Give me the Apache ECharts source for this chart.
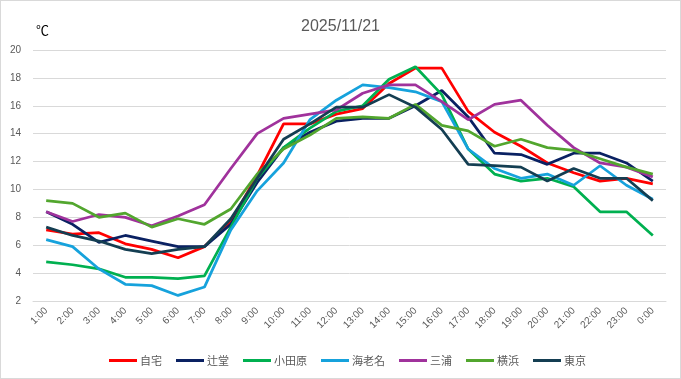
<!DOCTYPE html>
<html>
<head>
<meta charset="utf-8">
<script src="https://cdn.jsdelivr.net/npm/echarts@6/dist/echarts.min.js"></script>
<style>
html,body{margin:0;padding:0;background:#fff;}
#c{width:679px;height:377px;border:1px solid #D9D9D9;}
</style>
</head>
<body>
<div id="c"></div>
<script>
const hours = ['1:00','2:00','3:00','4:00','5:00','6:00','7:00','8:00','9:00','10:00','11:00','12:00','13:00','14:00','15:00','16:00','17:00','18:00','19:00','20:00','21:00','22:00','23:00','0:00'];
const jitaku   = [7.1,6.8,6.9,6.1,5.7,5.1,5.9,7.7,11.0,14.7,14.7,15.4,15.8,17.6,18.7,18.7,15.6,14.1,13.1,11.9,11.2,10.6,10.8,10.4];
const tsujido  = [8.4,7.5,6.2,6.7,6.3,5.9,5.9,7.5,10.5,13.0,14.1,14.9,15.1,15.1,16.0,17.1,15.2,12.6,12.5,11.8,12.6,12.6,11.9,10.6];
const odawara  = [4.8,4.6,4.3,3.7,3.7,3.6,3.8,7.3,10.8,13.0,14.4,15.6,16.0,17.9,18.8,16.8,12.9,11.1,10.6,10.8,10.2,8.4,8.4,6.7];
const ebina    = [6.4,5.9,4.3,3.2,3.1,2.4,3.0,7.1,9.9,11.9,15.0,16.4,17.5,17.3,17.0,16.3,12.9,11.5,10.8,11.1,10.3,11.7,10.3,9.3];
const miura    = [8.4,7.7,8.2,8.0,7.4,8.1,8.9,11.5,14.0,15.1,15.4,15.7,16.9,17.5,17.5,16.3,15.0,16.1,16.4,14.6,13.0,11.9,11.6,10.9];
const yokohama = [9.2,9.0,8.0,8.3,7.3,7.9,7.5,8.6,11.1,12.9,13.9,15.1,15.2,15.1,16.1,14.6,14.2,13.1,13.6,13.0,12.8,12.2,11.6,11.1];
const tokyo    = [7.3,6.7,6.3,5.7,5.4,5.7,5.9,7.9,10.8,13.6,14.7,15.9,15.9,16.8,15.9,14.3,11.8,11.7,11.6,10.6,11.5,10.8,10.8,9.2];
const seriesNames = ['自宅','辻堂','小田原','海老名','三浦','横浜','東京'];
const seriesData = [jitaku,tsujido,odawara,ebina,miura,yokohama,tokyo];
const colors = ['#FF0000','#0A2162','#00B050','#16A2DC','#A0329C','#52A62E','#143E52'];

const chart = echarts.init(document.getElementById('c'));
chart.setOption({
  animation:false,
  color:colors,
  title:{
    text:'2025/11/21', left:'center', top:13,
    textStyle:{fontSize:16,fontWeight:'normal',color:'#595959',fontFamily:'Liberation Sans, Arial, sans-serif'}
  },
  graphic:[{type:'text',left:35,top:23,style:{text:'℃',fontSize:13,fill:'#000',fontFamily:'Noto Sans CJK JP, sans-serif'}}],
  legend:{
    data:seriesNames, left:103, top:349, itemWidth:28, itemHeight:3, itemGap:14, icon:'rect',
    textStyle:{fontSize:11,color:'#595959',padding:[0,0,0,-2],fontFamily:'Noto Sans CJK JP, sans-serif'}
  },
  grid:{left:32,right:14,top:49,bottom:77},
  xAxis:{
    type:'category', data:hours, boundaryGap:true,
    axisLine:{lineStyle:{color:'#D9D9D9'}}, axisTick:{show:false},
    axisLabel:{rotate:45,fontSize:10,color:'#595959',margin:8,interval:0,fontFamily:'Liberation Sans, Arial, sans-serif'}
  },
  yAxis:{
    type:'value', min:2, max:20, interval:2,
    axisLine:{show:false}, axisTick:{show:false},
    splitLine:{lineStyle:{color:'#D9D9D9'}},
    axisLabel:{fontSize:10,color:'#595959',margin:12,fontFamily:'Liberation Sans, Arial, sans-serif'}
  },
  series:seriesNames.map((n,i)=>({
    name:n, type:'line', data:seriesData[i], symbol:'none',
    lineStyle:{width:2.75,color:colors[i]}, itemStyle:{color:colors[i]}
  }))
});
</script>
</body>
</html>
